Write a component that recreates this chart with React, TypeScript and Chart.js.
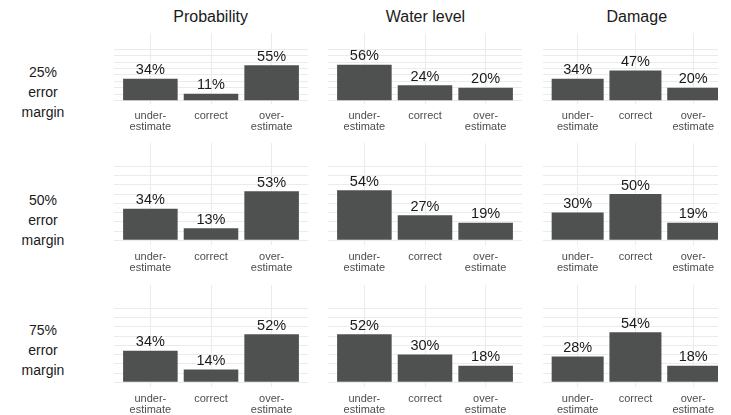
import React, { useEffect, useRef } from 'react';
import { Chart, registerables } from 'chart.js';

Chart.register(...registerables);

// ---------- data ----------
const categoryLabels: string[][] = [['under-', 'estimate'], ['correct'], ['over-', 'estimate']];
const measureTitles = ['Probability', 'Water level', 'Damage'];
const marginLabels = ['25%', '50%', '75%'];
const gridTicks = [0, 10, 20, 30, 40, 50, 60, 70, 80];

const probability25 = [34, 11, 55];
const waterLevel25 = [56, 24, 20];
const damage25 = [34, 47, 20];
const probability50 = [34, 13, 53];
const waterLevel50 = [54, 27, 19];
const damage50 = [30, 50, 19];
const probability75 = [34, 14, 52];
const waterLevel75 = [52, 30, 18];
const damage75 = [28, 54, 18];

const panelValues = [
  [probability25, waterLevel25, damage25],
  [probability50, waterLevel50, damage50],
  [probability75, waterLevel75, damage75],
];

// ---------- layout / style ----------
const FONT = '"Liberation Sans", Arial, Helvetica, sans-serif';
const BAR = '#4f5151';
const GRID = '#ebebeb';
const ROWS = [
  { top: 33, base: 101, labelTop: 61.5 },
  { top: 143, base: 240, labelTop: 190 },
  { top: 285, base: 382, labelTop: 319.5 },
];
const COLS = [
  { c0: 150, step: 60.6, xMax: 2.6 },
  { c0: 364.8, step: 60.65, xMax: 2.6 },
  { c0: 578.3, step: 58.5, xMax: 2.43 },
];
const Y_MIN = -5;
const Y_MAX = 105;
const AXIS_H = 30;

const valueLabels = {
  id: 'valueLabels',
  afterDatasetsDraw(chart: any) {
    const ctx = chart.ctx;
    const meta = chart.getDatasetMeta(0);
    const data = chart.data.datasets[0].data;
    ctx.save();
    ctx.font = `14.5px ${FONT}`;
    ctx.fillStyle = '#1a1a1a';
    ctx.textAlign = 'center';
    ctx.textBaseline = 'middle';
    meta.data.forEach((bar: any, i: number) => {
      ctx.fillText(`${data[i].y}%`, bar.x, bar.y - 8.5);
    });
    ctx.restore();
  },
};

function Panel({ values, row, col }: { values: number[]; row: number; col: number }) {
  const ref = useRef<HTMLCanvasElement>(null);
  const r = ROWS[row];
  const c = COLS[col];
  const pxPerUnit = (r.base - r.top) / Y_MAX;
  const areaH = (Y_MAX - Y_MIN) * pxPerUnit;
  const left = Math.round(c.c0 - 0.6 * c.step);
  const width = Math.round((c.xMax + 0.6) * c.step);
  const height = Math.round(areaH + AXIS_H);

  useEffect(() => {
    const chart = new Chart(ref.current as HTMLCanvasElement, {
      type: 'bar',
      data: {
        datasets: [
          {
            data: values.map((v, i) => ({ x: i, y: v })) as any,
            backgroundColor: BAR,
            barPercentage: 0.9,
            categoryPercentage: 1,
          },
        ],
      },
      options: {
        animation: false,
        responsive: true,
        maintainAspectRatio: false,
        layout: { padding: 0 },
        plugins: { legend: { display: false }, tooltip: { enabled: false } },
        scales: {
          x: {
            type: 'linear',
            offset: false,
            min: -0.6,
            max: c.xMax,
            afterBuildTicks: (s: any) => {
              s.ticks = categoryLabels.map((_, i) => ({ value: i }));
            },
            afterFit: (s: any) => {
              s.height = AXIS_H;
            },
            grid: { color: GRID, lineWidth: 1, drawTicks: false, offset: false },
            border: { display: false },
            ticks: {
              callback: (v: any) => categoryLabels[v as number],
              font: { family: FONT, size: 11, lineHeight: 1 },
              color: '#4d4d4d',
              padding: 6,
              maxRotation: 0,
              minRotation: 0,
              autoSkip: false,
            },
          },
          y: {
            min: Y_MIN,
            max: Y_MAX,
            afterBuildTicks: (s: any) => {
              s.ticks = gridTicks.map((v) => ({ value: v }));
            },
            afterFit: (s: any) => {
              s.width = 0;
            },
            grid: { color: GRID, lineWidth: 1, drawTicks: false },
            border: { display: false },
            ticks: { display: false },
          },
        } as any,
      },
      plugins: [valueLabels],
    });
    return () => chart.destroy();
  }, []);

  return (
    <div style={{ position: 'absolute', left, top: r.top, width, height }}>
      <canvas ref={ref} />
    </div>
  );
}

export default function App() {
  return (
    <div
      style={{
        position: 'absolute',
        left: 0,
        top: 0,
        width: 731,
        height: 415,
        background: '#ffffff',
        overflow: 'hidden',
        fontFamily: FONT,
      }}
    >
      {measureTitles.map((t, ci) => (
        <div
          key={t}
          style={{
            position: 'absolute',
            left: COLS[ci].c0 + COLS[ci].step - 100,
            width: 200,
            top: 6.7,
            textAlign: 'center',
            fontSize: 16,
            lineHeight: '20px',
            color: '#1a1a1a',
          }}
        >
          {t}
        </div>
      ))}
      {marginLabels.map((m, ri) => (
        <div
          key={m}
          style={{
            position: 'absolute',
            left: 0,
            width: 86,
            top: ROWS[ri].labelTop,
            textAlign: 'center',
            fontSize: 14,
            lineHeight: '20px',
            color: '#1a1a1a',
          }}
        >
          <div>{m}</div>
          <div>error</div>
          <div>margin</div>
        </div>
      ))}
      {panelValues.map((rowVals, ri) =>
        rowVals.map((vals, ci) => <Panel key={`${ri}-${ci}`} values={vals} row={ri} col={ci} />)
      )}
    </div>
  );
}
